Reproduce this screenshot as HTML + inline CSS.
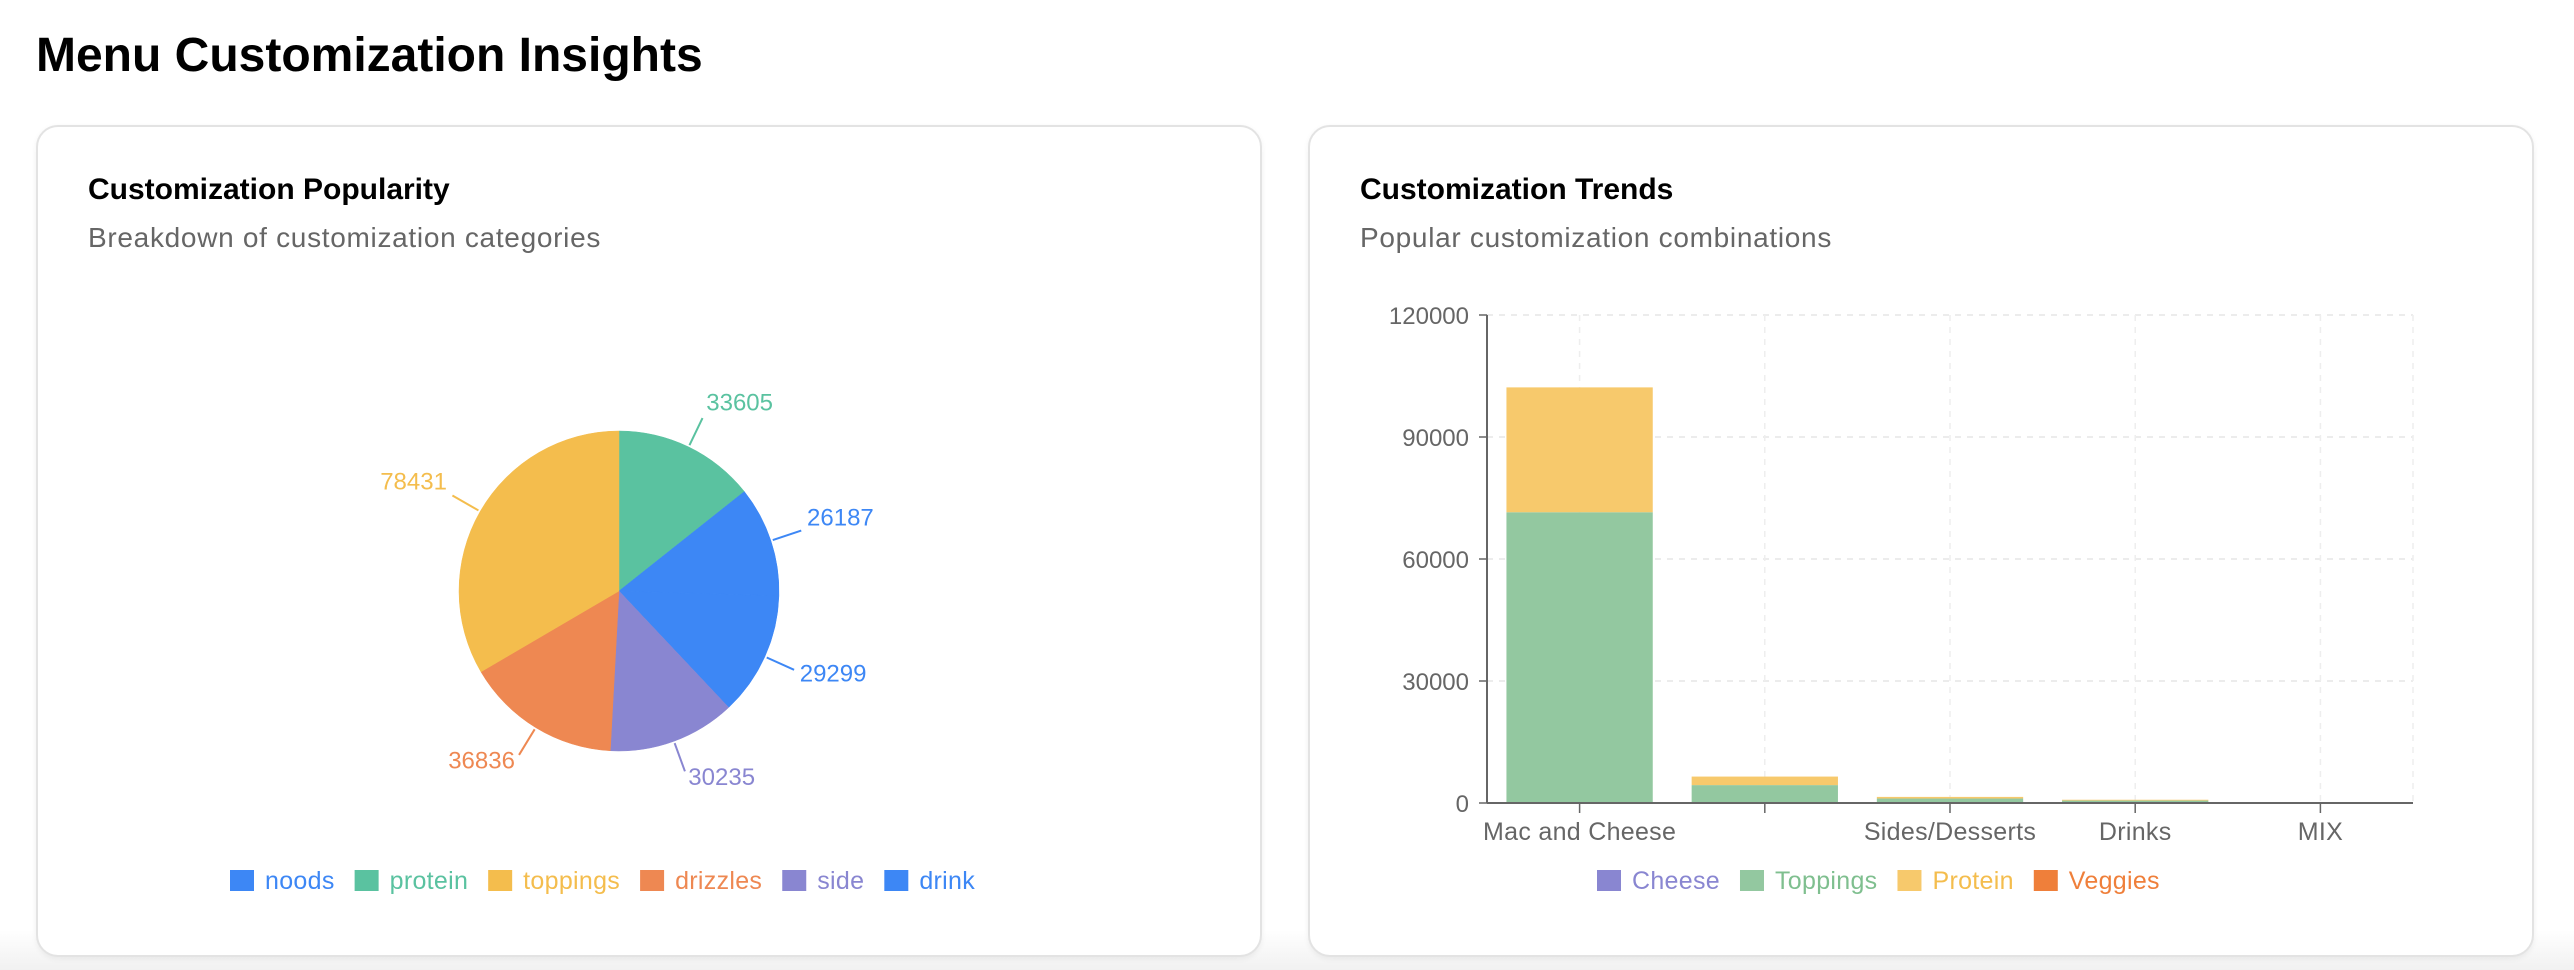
<!DOCTYPE html>
<html><head><meta charset="utf-8"><style>
body{margin:0;width:2574px;height:970px;overflow:hidden;background:linear-gradient(#fff 0,#fff 930px,#f1f1f1 970px);font-family:"Liberation Sans",sans-serif;position:relative}
h1{position:absolute;left:36px;top:28px;margin:0;font-size:48px;font-weight:bold;color:#000}
.card{position:absolute;top:125px;width:1222px;height:828px;border:2px solid #e3e3e3;border-radius:22px;background:#fff;box-shadow:0 2px 6px rgba(0,0,0,.06)}
.t{position:absolute;left:50px;top:46px;font-size:30px;font-weight:bold;color:#000}
.s{position:absolute;left:50px;top:95px;font-size:28px;letter-spacing:0.7px;color:#666}
svg{position:absolute;left:0;top:0}
</style></head><body>
<h1>Menu Customization Insights</h1>
<div class="card" style="left:36px">
<div class="t">Customization Popularity</div>
<div class="s">Breakdown of customization categories</div>
</div>
<div class="card" style="left:1308px">
<div class="t">Customization Trends</div>
<div class="s">Popular customization combinations</div>
</div>
<svg id="c" width="2574" height="970"></svg>
<script>
const pieNames=["protein","noods","drink","side","drizzles","toppings"];
const pieValues=[33605,26187,29299,30235,36836,78431];
const legendNames=["noods","protein","toppings","drizzles","side","drink"];
const barCats=["Mac and Cheese","","Sides/Desserts","Drinks","MIX"];
const cheeseVals=[0,0,0,0,0];
const toppingsVals=[71500,4400,1100,600,0];
const proteinVals=[30700,2100,400,200,0];
const veggiesVals=[0,0,0,0,0];
const yTicks=[0,30000,60000,90000,120000];
const seriesNames=["Cheese","Toppings","Protein","Veggies"];

const pieColors={protein:"#5ac2a0",noods:"#3d87f5",drink:"#3d87f5",side:"#8986d1",drizzles:"#ee8852",toppings:"#f4bd4d"};
const barColors=["#8986d1","#93c8a0","#f7c96c","#ef7f3a"];
const legendTextColors=["#8986d1","#7fbf8f","#f4bd4d","#ef7f3a"];
const svg=document.getElementById('c');
const NS="http://www.w3.org/2000/svg";
function mk(t,a,p){const e=document.createElementNS(NS,t);for(const k in a)e.setAttribute(k,a[k]);(p||svg).appendChild(e);return e;}

// pie
const cx=619,cy=591,R=160;
const total=pieValues.reduce((a,b)=>a+b,0);
let ang=0;
pieValues.forEach((v,i)=>{
  const a0=ang,a1=ang+v/total*2*Math.PI;ang=a1;
  const p=a=>[cx+R*Math.sin(a),cy-R*Math.cos(a)];
  const [x0,y0]=p(a0),[x1,y1]=p(a1);
  const col=pieColors[pieNames[i]];
  const s=mk('path',{d:`M${cx},${cy}L${x0},${y0}A${R},${R} 0 ${a1-a0>Math.PI?1:0} 1 ${x1},${y1}Z`,fill:col,stroke:col,'stroke-width':0.5});
  
  
  const m=(a0+a1)/2,sx=Math.sin(m),sy=-Math.cos(m);
  const l=mk('path',{d:`M${cx+(R+2)*sx},${cy+(R+2)*sy}L${cx+(R+32)*sx},${cy+(R+32)*sy}`,stroke:col,'stroke-width':2,fill:'none'});
  
  
  const tx=mk('text',{x:cx+(R+36)*sx+(sx>0?2:-2),y:cy+(R+36)*sy+(sy<0?-4:10),fill:col,'font-size':24,'text-anchor':sx>0?'start':'end'});
  tx.textContent=v;
  
  
});
// pie legend
let lx=230;
legendNames.forEach(n=>{
  const col=pieColors[n];
  const g=mk('g',{});
  
  
  mk('rect',{x:lx,y:870,width:24,height:21,fill:col},g);
  const t=mk('text',{x:lx+35,y:889,fill:col,'font-size':25,'letter-spacing':0.3},g);t.textContent=n;
  lx+=35+t.getComputedTextLength()+20;
});

// bars
const X0=1487,X1=2413,Y0=803,Y1=315,bw=(X1-X0)/barCats.length,ymax=120000;
const yS=v=>Y0-(v/ymax)*(Y0-Y1);
const xC=i=>X0+bw*(i+0.5);
yTicks.forEach(t=>{
  if(t>0){const gl=mk('line',{x1:X0,x2:X1,y1:yS(t),y2:yS(t),stroke:'#e6e6e6','stroke-dasharray':'6 6','stroke-width':1.5});
  }
  mk('line',{x1:X0-8,x2:X0,y1:yS(t),y2:yS(t),stroke:'#666','stroke-width':1.5});
  const tx=mk('text',{x:X0-18,y:yS(t)+9,fill:'#666','font-size':24,'text-anchor':'end'});tx.textContent=t;
  
});
barCats.forEach((c,i)=>{
  mk('line',{x1:xC(i),x2:xC(i),y1:Y1,y2:Y0,stroke:'#eee','stroke-dasharray':'6 6','stroke-width':1.5});
});
mk('line',{x1:X1,x2:X1,y1:Y1,y2:Y0,stroke:'#eee','stroke-dasharray':'6 6','stroke-width':1.5});
const series=[cheeseVals,toppingsVals,proteinVals,veggiesVals];
barCats.forEach((c,i)=>{
  let base=0;
  series.forEach((vals,s)=>{
    const v=vals[i];if(v<=0)return;
    const r=mk('rect',{x:xC(i)-bw*0.395,width:bw*0.79,y:yS(base+v),height:yS(base)-yS(base+v),fill:barColors[s]});
    
    
    base+=v;
  });
  mk('line',{x1:xC(i),x2:xC(i),y1:Y0,y2:Y0+10,stroke:'#666','stroke-width':1.5});
  const tx=mk('text',{x:xC(i),y:Y0+37,fill:'#666','font-size':25,'text-anchor':'middle','letter-spacing':0.3});tx.textContent=c;
  
});
const ya=mk('line',{x1:X0,x2:X0,y1:Y1,y2:Y0,stroke:'#666','stroke-width':2});

const xa=mk('line',{x1:X0,x2:X1,y1:Y0,y2:Y0,stroke:'#666','stroke-width':2});

let bx=1597;
seriesNames.forEach((n,s)=>{
  const g=mk('g',{});
  
  
  mk('rect',{x:bx,y:870,width:24,height:21,fill:barColors[s]},g);
  const t=mk('text',{x:bx+35,y:889,fill:legendTextColors[s],'font-size':25,'letter-spacing':0.3},g);t.textContent=n;
  bx+=35+t.getComputedTextLength()+20;
});
</script>
</body></html>
